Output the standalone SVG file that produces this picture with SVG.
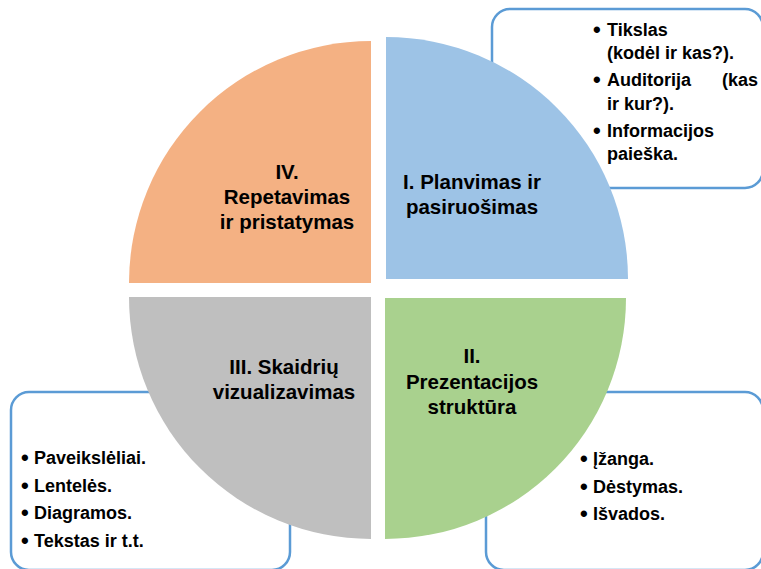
<svg xmlns="http://www.w3.org/2000/svg" width="761" height="569" viewBox="0 0 761 569">
<style>
.box{fill:#FFFFFF;stroke:#5B9BD5;stroke-width:2.5}
.t{font-family:"Liberation Sans",Arial,sans-serif;font-weight:bold;fill:#000000}
.bt{font-size:18px}
.bu{font-size:22px}
.lt{font-size:20.5px;text-anchor:middle}
</style>
<rect width="761" height="569" fill="#FFFFFF"/>
<g id="box-planning">
<rect class="box" x="492" y="9" width="271" height="179" rx="18"/>
<text class="t bu" x="593" y="37">•</text><text class="t bt" x="607" y="36">Tikslas</text>
<text class="t bt" x="607" y="59">(kodėl ir kas?).</text>
<text class="t bu" x="593" y="87">•</text><text class="t bt" x="607" y="86">Auditorija</text><text class="t bt" x="758" y="86" text-anchor="end">(kas</text>
<text class="t bt" x="607" y="110">ir kur?).</text>
<text class="t bu" x="593" y="138">•</text><text class="t bt" x="607" y="137">Informacijos</text>
<text class="t bt" x="607" y="160">paieška.</text>
</g>
<g id="box-visual">
<rect class="box" x="11" y="392" width="279" height="178" rx="18"/>
<text class="t bu" x="21" y="465">•</text><text class="t bt" x="34" y="464">Paveikslėliai.</text>
<text class="t bu" x="21" y="493">•</text><text class="t bt" x="34" y="492">Lentelės.</text>
<text class="t bu" x="21" y="520">•</text><text class="t bt" x="34" y="519">Diagramos.</text>
<text class="t bu" x="21" y="548">•</text><text class="t bt" x="34" y="547">Tekstas ir t.t.</text>
</g>
<g id="box-structure">
<rect class="box" x="486" y="392" width="277" height="178" rx="18"/>
<text class="t bu" x="580" y="466">•</text><text class="t bt" x="593" y="465">Įžanga.</text>
<text class="t bu" x="580" y="494">•</text><text class="t bt" x="593" y="493">Dėstymas.</text>
<text class="t bu" x="580" y="521">•</text><text class="t bt" x="593" y="520">Išvados.</text>
</g>
<g id="q1-planning">
<path d="M386,279 V37 A242,242 0 0 1 628,279 Z" fill="#9DC3E6"/>
<text class="t lt" x="472" y="189">I. Planvimas ir</text>
<text class="t lt" x="472" y="214">pasiruošimas</text>
</g>
<g id="q4-rehearsal">
<path d="M371,283 H129 A242,242 0 0 1 371,41 Z" fill="#F4B183"/>
<text class="t lt" x="287" y="179">IV.</text>
<text class="t lt" x="287" y="204">Repetavimas</text>
<text class="t lt" x="287" y="229">ir pristatymas</text>
</g>
<g id="q3-visual">
<path d="M371,297 V539 A242,242 0 0 1 129,297 Z" fill="#BFBFBF"/>
<text class="t lt" x="284" y="374">III. Skaidrių</text>
<text class="t lt" x="284" y="399">vizualizavimas</text>
</g>
<g id="q2-structure">
<path d="M385,298 H626 A241,241 0 0 1 385,539 Z" fill="#A9D18E"/>
<text class="t lt" x="472" y="363">II.</text>
<text class="t lt" x="472" y="389">Prezentacijos</text>
<text class="t lt" x="472" y="414">struktūra</text>
</g>
</svg>
